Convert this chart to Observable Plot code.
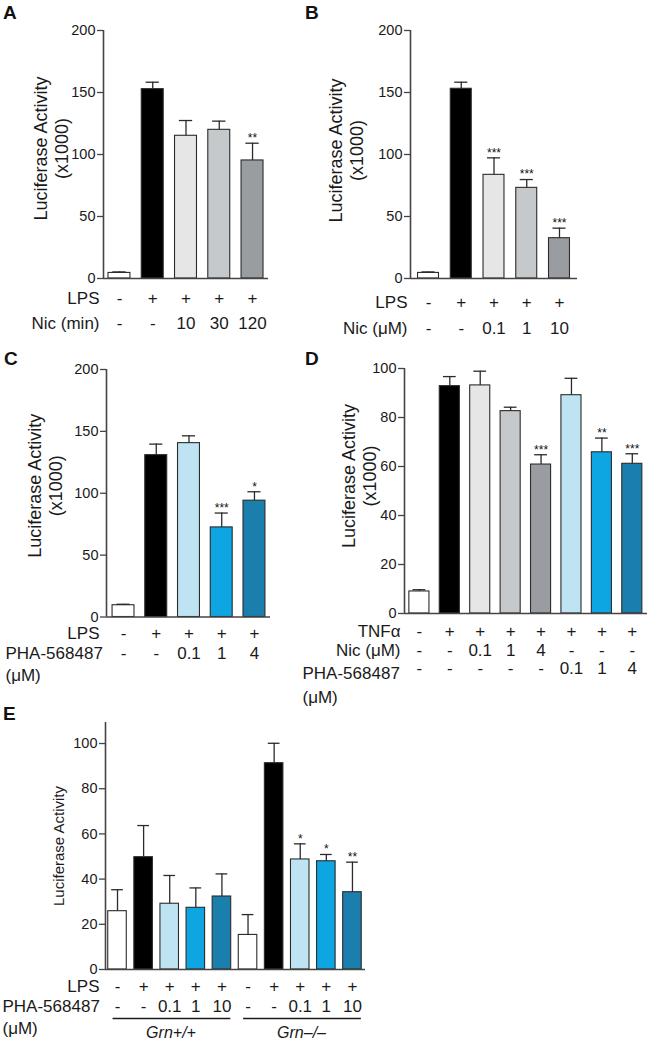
<!DOCTYPE html>
<html><head><meta charset="utf-8">
<script src="https://cdn.jsdelivr.net/npm/d3@7"></script>
<script src="https://cdn.jsdelivr.net/npm/@observablehq/plot@0.6"></script>
<style>
body{margin:0;background:#fff;}
#fig{position:relative;width:648px;height:1044px;overflow:hidden;background:#fff;font-family:"Liberation Sans",Arial,Helvetica,sans-serif;}
#fig svg{position:absolute;overflow:visible;background:transparent !important;}
.letter{position:absolute;font-weight:bold;font-size:19px;line-height:19px;color:#111;}
</style></head><body><div id="fig"></div>
<script>
// ---------- DATA ----------
// Panel A
const aLPS = ["-","+","+","+","+"];
const aNic = ["-","-","10","30","120"];
const aKeys = ["control","stimulus","nic-low","nic-mid","nic-high"];
const aValues = [4.5,152.7,115.1,119.9,95.2];
const aErrors = [0.8,5.6,12.3,7.0,13.9];
const aStars = ["","","","","**"];
// Panel B
const bLPS = ["-","+","+","+","+"];
const bNic = ["-","-","0.1","1","10"];
const bKeys = ["control","stimulus","nic-low","nic-mid","nic-high"];
const bValues = [4.5,153.0,83.6,73.1,32.5];
const bErrors = [0.8,5.3,13.7,6.7,8.1];
const bStars = ["","","***","***","***"];
// Panel C
const cLPS = ["-","+","+","+","+"];
const cPHA = ["-","-","0.1","1","4"];
const cKeys = ["control","stimulus","pha-low","pha-mid","pha-high"];
const cValues = [9.5,130.8,140.5,72.4,94.0];
const cErrors = [0.8,8.9,5.9,11.6,7.2];
const cStars = ["","","","***","*"];
// Panel D
const dTNF = ["-","+","+","+","+","+","+","+"];
const dNic = ["-","-","0.1","1","4","-","-","-"];
const dPHA = ["-","-","-","-","-","0.1","1","4"];
const dKeys = ["control","stimulus","nic-low","nic-mid","nic-high","pha-low","pha-mid","pha-high"];
const dValues = [9.0,92.8,93.1,82.6,60.8,89.1,65.8,61.1];
const dErrors = [0.7,3.9,5.8,1.6,4.0,6.9,5.8,4.1];
const dStars = ["","","","","***","","**","***"];
// Panel E
const eLPS = ["-","+","+","+","+","-","+","+","+","+"];
const ePHA = ["-","-","0.1","1","10","-","-","0.1","1","10"];
const eKeys = ["control","stimulus","pha-low","pha-mid","pha-high","control","stimulus","pha-low","pha-mid","pha-high"];
const eValues = [25.8,49.7,29.1,27.3,32.3,15.3,91.3,48.7,47.9,34.2];
const eErrors = [9.5,14.0,12.5,8.8,10.0,9.0,8.8,6.9,3.0,13.3];
const eStars = ["","","","","","","","*","*","**"];
const eGenotypes = ["Grn+/+","Grn\u2013/\u2013"];
const eGenotypeFirst = [0,5];
const eGenotypeLast = [4,9];

const ticks200 = [0,50,100,150,200];
const ticks100 = [0,20,40,60,80,100];
const yTitle = "Luciferase Activity\n(x1000)";
const yTitleE = "Luciferase Activity";

// ---------- STYLE ----------
const colorKeys = ["control","stimulus","nic-low","nic-mid","nic-high","pha-low","pha-mid","pha-high"];
const colorRange = ["#ffffff","#000000","#e6e6e6","#c6c9cb","#999da1","#bee4f4","#0ea6e2","#1b7fae"];
const font = '"Liberation Sans", Arial, Helvetica, sans-serif';
const ink = "#1a1a1a";
const axisInk = "#444";
const barInk = "#2b2b2b";
const rowSize = 17;
const tickFont = 14.5;

function makePanel(p) {
  const n = p.values.length;
  const rows = d3.range(n).map(i => ({i, v: p.values[i], e: p.errors[i], k: p.keys[i], s: p.stars[i]}));
  const hw = p.barW / 2, cw = p.capW / 2;
  const x0 = p.xDomain[0];
  const marks = [
    Plot.rect(rows, {x1: d => d.i - hw, x2: d => d.i + hw, y1: 0, y2: "v", fill: "k", stroke: barInk, strokeWidth: 1.1}),
    Plot.ruleX(rows, {x: "i", y1: "v", y2: d => d.v + d.e, stroke: barInk, strokeWidth: 1.3}),
    Plot.ruleY(rows, {y: d => d.v + d.e, x1: d => d.i - cw, x2: d => d.i + cw, stroke: barInk, strokeWidth: 1.3}),
    Plot.text(rows.filter(d => d.s), {x: "i", y: d => d.v + d.e, text: "s", dy: -5, fontSize: 12, fill: "#111"}),
    Plot.ruleY([0], {stroke: axisInk, strokeWidth: 1.6}),
    Plot.ruleX([x0], {y1: 0, y2: p.yDomain[1], stroke: axisInk, strokeWidth: 1.6}),
    // y axis: tick marks and tick labels
    Plot.ruleY(p.yTicks, {y: d => d, x1: x0, x2: x0, insetLeft: -6, stroke: axisInk, strokeWidth: 1.3}),
    Plot.text(p.yTicks, {y: d => d, text: d => String(d), frameAnchor: "left", textAnchor: "end", lineAnchor: "middle", dx: -8, fontSize: tickFont, fill: ink}),
    Plot.text([p.yLabel], {text: d => d, frameAnchor: "left", textAnchor: "middle", lineAnchor: "middle", rotate: -90, dx: p.labelDx, dy: p.labelDy, fontSize: p.labelSize, lineHeight: 1.17, fill: ink})
  ];
  for (const r of p.rows) {
    marks.push(Plot.text(rows, {x: "i", text: d => r.labels[d.i], frameAnchor: "bottom", textAnchor: "middle", lineAnchor: "middle", dy: r.dy, fontSize: rowSize, fill: ink}));
  }
  for (const h of p.headers) {
    marks.push(Plot.text([h.text], {text: d => d, frameAnchor: "bottom-left", textAnchor: h.anchor, lineAnchor: "middle", dx: h.dx, dy: h.dy, fontSize: rowSize, fill: ink}));
  }
  if (p.extra) marks.push(...p.extra);
  const svg = Plot.plot({
    width: p.width, height: p.height,
    marginTop: p.m[0], marginRight: p.m[1], marginBottom: p.m[2], marginLeft: p.m[3],
    style: {fontFamily: font, fontSize: tickFont + "px", color: ink, background: "transparent", overflow: "visible"},
    x: {domain: p.xDomain, axis: null},
    y: {domain: p.yDomain, axis: null},
    color: {type: "ordinal", domain: colorKeys, range: colorRange},
    marks
  });
  svg.style.left = p.left + "px";
  svg.style.top = p.top + "px";
  document.getElementById("fig").appendChild(svg);
}

makePanel({
  left: 0, top: 0, width: 300, height: 340, m: [30, 32, 62, 103],
  xDomain: [-0.48, 4.48], barW: 0.66, capW: 0.4,
  yDomain: [0, 200], yTicks: ticks200,
  values: aValues, errors: aErrors, keys: aKeys, stars: aStars,
  yLabel: yTitle, labelDx: -52.5, labelDy: -6, labelSize: 18,
  rows: [{labels: aLPS, dy: 20}, {labels: aNic, dy: 45}],
  headers: [{text: "LPS", anchor: "end", dx: -4, dy: 20}, {text: "Nic (min)", anchor: "end", dx: -4, dy: 45}]
});

makePanel({
  left: 300, top: 0, width: 348, height: 340, m: [30, 71, 62, 110],
  xDomain: [-0.55, 4.55], barW: 0.64, capW: 0.4,
  yDomain: [0, 200], yTicks: ticks200,
  values: bValues, errors: bErrors, keys: bKeys, stars: bStars,
  yLabel: yTitle, labelDx: -64.5, labelDy: -4, labelSize: 18,
  rows: [{labels: bLPS, dy: 24}, {labels: bNic, dy: 50}],
  headers: [{text: "LPS", anchor: "end", dx: -3, dy: 24}, {text: "Nic (\u03bcM)", anchor: "end", dx: -3, dy: 50}]
});

makePanel({
  left: 0, top: 340, width: 300, height: 360, m: [29, 30, 83.5, 106],
  xDomain: [-0.52, 4.49], barW: 0.67, capW: 0.4,
  yDomain: [0, 200], yTicks: ticks200,
  values: cValues, errors: cErrors, keys: cKeys, stars: cStars,
  yLabel: yTitle, labelDx: -62, labelDy: -7.5, labelSize: 18,
  rows: [{labels: cLPS, dy: 16.5}, {labels: cPHA, dy: 36.5}],
  headers: [{text: "LPS", anchor: "end", dx: -7, dy: 16.5}, {text: "PHA-568487", anchor: "start", dx: -101, dy: 36.5}, {text: "(\u03bcM)", anchor: "start", dx: -101, dy: 59}]
});

makePanel({
  left: 300, top: 340, width: 348, height: 370, m: [28, 1, 97, 104],
  xDomain: [-0.49, 7.5], barW: 0.66, capW: 0.42,
  yDomain: [0, 100], yTicks: ticks100,
  values: dValues, errors: dErrors, keys: dKeys, stars: dStars,
  yLabel: yTitle, labelDx: -45.5, labelDy: -15, labelSize: 18,
  rows: [{labels: dTNF, dy: 18.5}, {labels: dNic, dy: 37.5}, {labels: dPHA, dy: 55.5}],
  headers: [{text: "TNF\u03b1", anchor: "end", dx: -4, dy: 18.5}, {text: "Nic (\u03bcM)", anchor: "end", dx: -4, dy: 37.5}, {text: "PHA-568487", anchor: "start", dx: -102, dy: 60}, {text: "(\u03bcM)", anchor: "start", dx: -102, dy: 84}]
});

const groupsE = eGenotypes.map((g, j) => ({g, first: eGenotypeFirst[j], last: eGenotypeLast[j]}));
makePanel({
  left: 0, top: 710, width: 400, height: 334, m: [12, 35, 75, 105],
  xDomain: [-0.46, 9.5], barW: 0.71, capW: 0.45,
  yDomain: [0, 109.3], yTicks: ticks100,
  values: eValues, errors: eErrors, keys: eKeys, stars: eStars,
  yLabel: yTitleE, labelDx: -47, labelDy: 0, labelSize: 15,
  rows: [{labels: eLPS, dy: 17.5}, {labels: ePHA, dy: 37.5}],
  headers: [{text: "LPS", anchor: "end", dx: -6, dy: 17.5}, {text: "PHA-568487", anchor: "start", dx: -103, dy: 37.5}, {text: "(\u03bcM)", anchor: "start", dx: -103, dy: 59}],
  extra: [
    Plot.ruleY(groupsE, {y: 0, x1: d => d.first - 0.17, x2: d => d.last + 0.34, dy: 49, stroke: ink, strokeWidth: 1.5}),
    Plot.text(groupsE, {x: d => (d.first + d.last) / 2 + 0.05, text: "g", frameAnchor: "bottom", lineAnchor: "middle", dy: 63, fontSize: 16, fontStyle: "italic", fill: ink})
  ]
});

// panel letters
const letters = [["A",3,3],["B",305,3],["C",4,349],["D",305,349],["E",3,704]];
for (const [t, x, y] of letters) {
  const d = document.createElement("div");
  d.className = "letter"; d.textContent = t;
  d.style.left = x + "px"; d.style.top = y + "px";
  document.getElementById("fig").appendChild(d);
}
</script></body></html>
